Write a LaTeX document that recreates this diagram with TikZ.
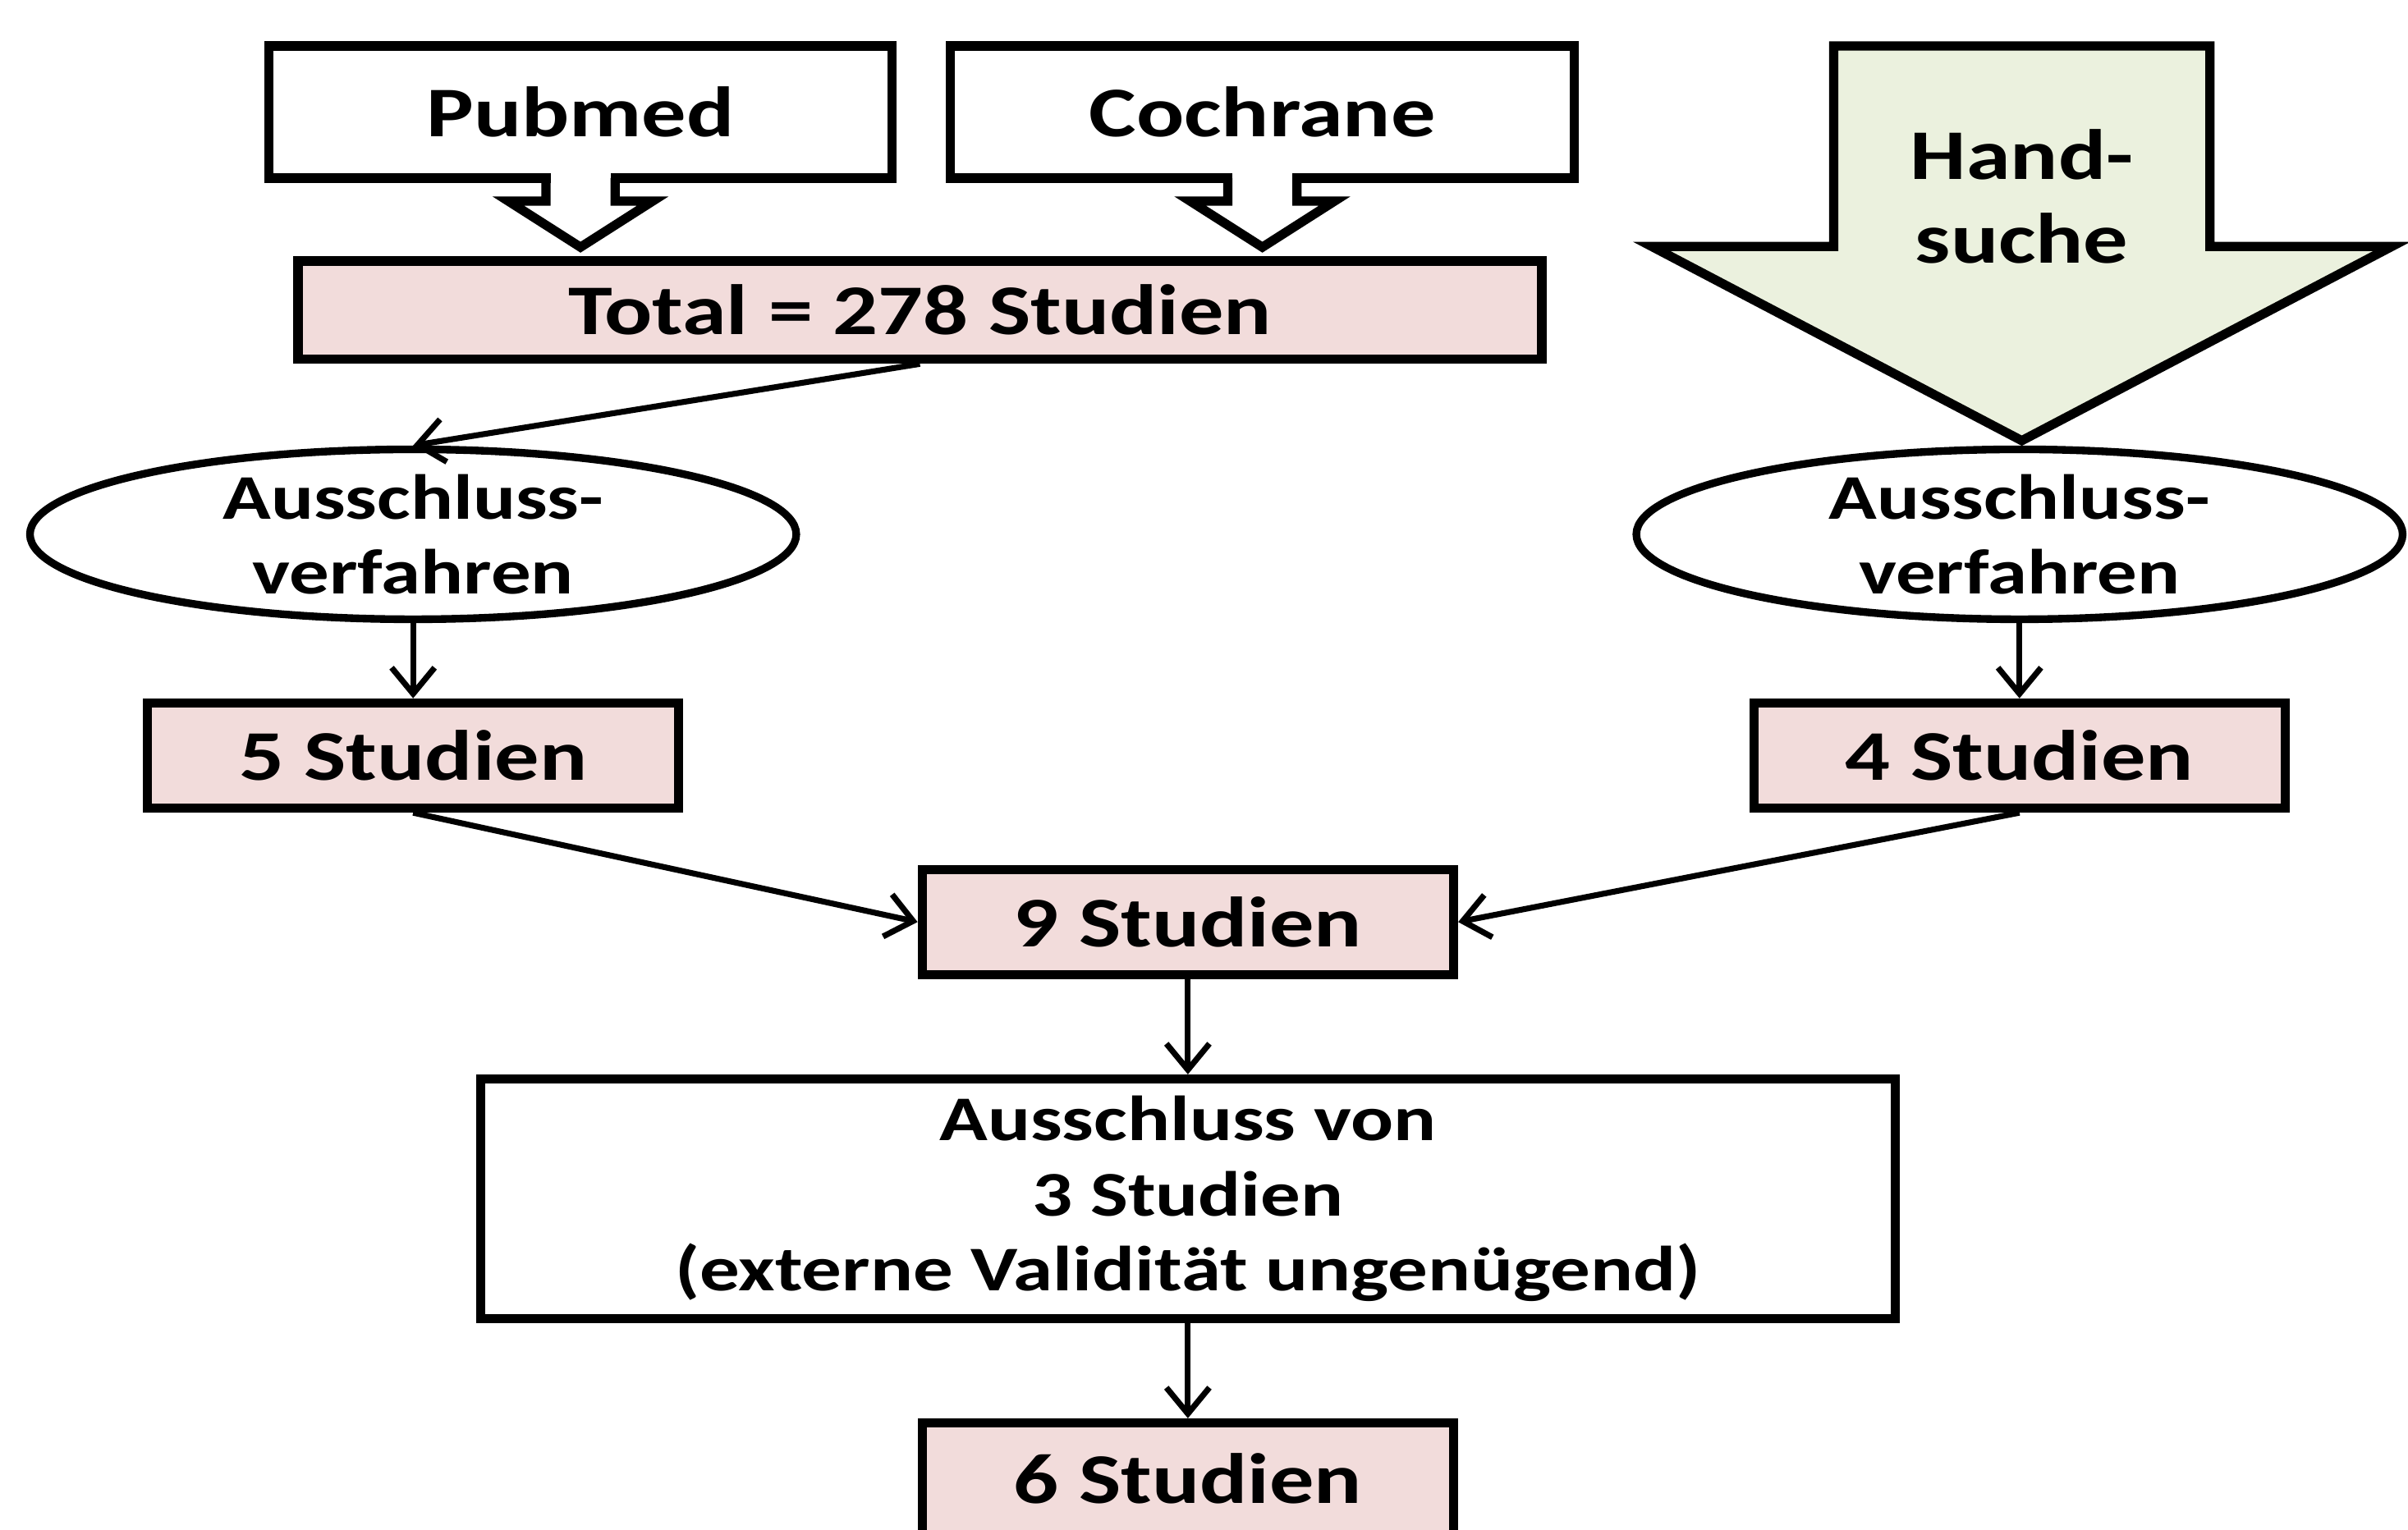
\documentclass[tikz,border=0pt]{standalone}
\usepackage{fontspec}
\setmainfont{Carlito}[FakeStretch=1.25]
\usetikzlibrary{positioning, arrows.meta, shapes.geometric, calc}
\definecolor{studypink}{HTML}{F2DCDB}
\definecolor{handgreen}{HTML}{EBF1DE}
\newcommand{\bigtxt}{\fontsize{13.2}{15.6}\selectfont\bfseries}
\newcommand{\smalltxt}{\fontsize{11.8}{13.9}\selectfont\bfseries}

\begin{document}
\begin{tikzpicture}[
    srcbox/.style={
        draw,
        line width=0.6mm,
        fill=white,
        minimum width=4.06cm,
        minimum height=0.86cm,
        inner sep=0pt,
        font=\bigtxt
    },
    countbox/.style={
        draw,
        line width=0.6mm,
        fill=studypink,
        minimum width=3.46cm,
        minimum height=0.685cm,
        inner sep=0pt,
        font=\bigtxt
    },
    filterell/.style={
        draw,
        ellipse,
        line width=0.5mm,
        minimum width=4.99cm,
        minimum height=1.07cm,
        inner sep=0pt,
        align=center,
        font=\smalltxt
    },
    arr/.style={
        -{Straight Barb[length=1.7mm,width=2.8mm]},
        line width=0.38mm
    },
    frame/.style={
        line width=0.6mm,
        line join=miter
    }
]
\clip (0,0) rectangle (15.68,-9.965);
\fill[white] (0,0) rectangle (15.68,-9.965);

% Database sources
\node[srcbox] (pubmed) at (3.78,-0.73) {Pubmed};
\node[srcbox, right=0.32cm of pubmed] (cochrane) {Cochrane};

% pointer under each source box
\foreach \src in {pubmed,cochrane}{
    \fill[white] ($(\src.south)+(-0.195,-0.02)$) rectangle ($(\src.south)+(0.195,0.065)$);
    \draw[frame] ($(\src.south)+(-0.225,0.03)$) -- ++(0,-0.15) -- ++(-0.245,0)
        -- ($(\src.south)+(0,-0.42)$) -- ($(\src.south)+(0.47,-0.12)$)
        -- ++(-0.245,0) -- ++(0,0.15);
}

\node[countbox, minimum width=8.1cm, minimum height=0.64cm] (total) at (5.99,-2.02)
{Total = 278 Studien};

% Hand search arrow
\draw[frame, fill=handgreen]
(11.94,-0.30) -- (14.39,-0.30) -- (14.39,-1.605) -- (15.575,-1.605)
-- (13.165,-2.87) -- (10.755,-1.605) -- (11.94,-1.605) -- cycle;
\node[align=center, font=\bigtxt] (hand) at (13.165,-1.28) {Hand-\\suche};

% Exclusion steps
\node[filterell] (ellL) at (2.69,-3.48) {Ausschluss-\\verfahren};
\node[filterell] (ellR) at (13.15,-3.48) {Ausschluss-\\verfahren};

\node[countbox, below=0.49cm of ellL] (s5) {5 Studien};
\node[countbox, below=0.49cm of ellR] (s4) {4 Studien};
\node[countbox] (s9) at (7.735,-6.005) {9 Studien};

\node[draw, line width=0.6mm, minimum width=9.21cm, minimum height=1.56cm,
      inner sep=0pt, align=center, font=\smalltxt, below=0.62cm of s9] (excl)
{Ausschluss von\\3 Studien\\(externe Validität ungenügend)};

\node[countbox, minimum height=0.73cm, below=0.62cm of excl] (s6) {6 Studien};

% Connections
\draw[arr] (total.south) -- (ellL.north);
\draw[arr] (ellL.south) -- (s5.north);
\draw[arr] (ellR.south) -- (s4.north);
\draw[arr] (s5.south) -- (s9.west);
\draw[arr] (s4.south) -- (s9.east);
\draw[arr] (s9.south) -- (excl.north);
\draw[arr] (excl.south) -- (s6.north);

\end{tikzpicture}
\end{document}
